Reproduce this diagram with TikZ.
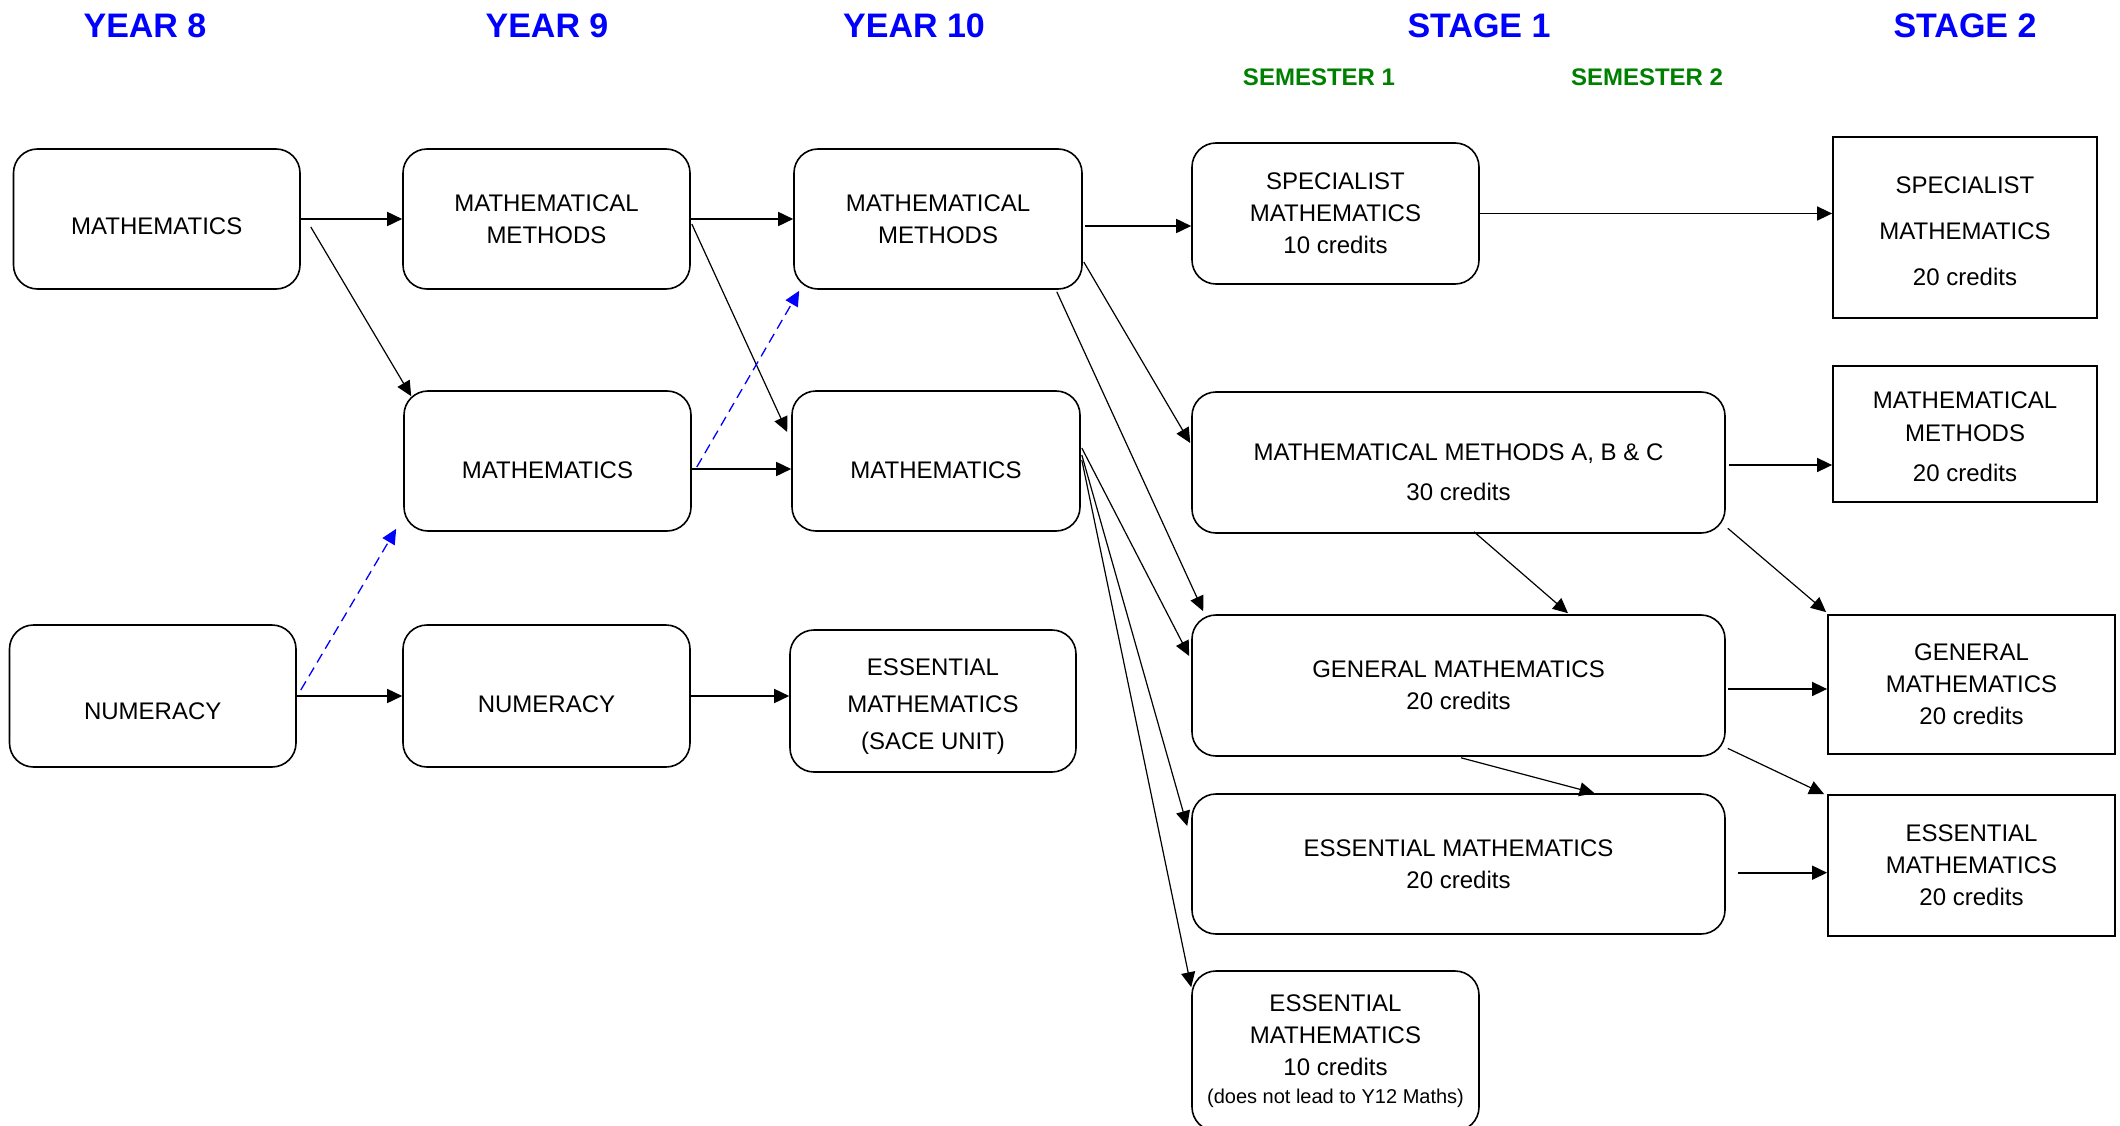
\documentclass[tikz,border=0pt]{standalone}
\usepackage{fontspec}
\setmainfont{Liberation Sans}
\usetikzlibrary{arrows.meta,calc}
\definecolor{hdrblue}{RGB}{0,0,255}
\definecolor{semgreen}{RGB}{0,128,0}
\newcommand{\upr}[1]{\rule{0pt}{#1pt}}
\begin{document}
\begin{tikzpicture}[x=1pt,y=-1pt,
  rbox/.style={draw, line width=1.6pt, rounded corners=24pt, inner sep=0pt, align=center, font=\fontsize{24}{32}\selectfont},
  sbox/.style={draw, line width=1.8pt, inner sep=0pt, align=center, font=\fontsize{24}{32}\selectfont},
  hdr/.style={text=hdrblue, font=\fontsize{34}{40}\selectfont\bfseries, inner sep=0pt},
  sem/.style={text=semgreen, font=\fontsize{24}{30}\selectfont\bfseries, inner sep=0pt},
  arr/.style={line width=1.6pt, -{Triangle[length=15pt,width=14pt]}},
  darr/.style={line width=1.2pt, -{Triangle[length=15pt,width=14pt]}},
  barr/.style={line width=1.3pt, draw=hdrblue, dash pattern=on 10pt off 6pt, -{Triangle[length=15pt,width=14pt]}}
]
\useasboundingbox (0,0) rectangle (2120,1126);

% headers
\node[hdr] (h8) at (145,25.5) {YEAR 8};
\node[hdr] (h9) at (547,25.5) {YEAR 9};
\node[hdr] (h10) at (914,25.5) {YEAR 10};
\node[hdr] (hs1) at (1479,25.5) {STAGE 1};
\node[hdr] (hs2) at (1965,25.5) {STAGE 2};
\node[sem] (sm1) at (1319,77) {SEMESTER 1};
\node[sem] (sm2) at (1647,77) {SEMESTER 2};

% Year 8
\node[rbox, minimum width=286.5pt, minimum height=140pt] (y8m) at (156.75,219) {\upr{31.5}MATHEMATICS};
\node[rbox, minimum width=286.5pt, minimum height=142pt] (y8n) at (152.75,696) {\upr{46.5}NUMERACY};
% Year 9
\node[rbox, minimum width=287pt, minimum height=140pt] (y9mm) at (546.5,219) {MATHEMATICAL\\METHODS};
\node[rbox, minimum width=287pt, minimum height=140pt] (y9m) at (547.5,461) {\upr{35.5}MATHEMATICS};
\node[rbox, minimum width=287pt, minimum height=142pt] (y9n) at (546.5,696) {\upr{33.5}NUMERACY};
% Year 10
\node[rbox, minimum width=288pt, minimum height=140pt] (y10mm) at (938,219) {MATHEMATICAL\\METHODS};
\node[rbox, minimum width=288pt, minimum height=140pt] (y10m) at (936,461) {\upr{35.5}MATHEMATICS};
\node[rbox, minimum width=286pt, minimum height=142pt, font=\fontsize{24}{37}\selectfont] (y10e) at (933,701) {\upr{28.5}ESSENTIAL\\MATHEMATICS\\(SACE UNIT)};
% Stage 1
\node[rbox, minimum width=287pt, minimum height=141pt] (s1spec) at (1335.5,213.5) {SPECIALIST\\MATHEMATICS\\10 credits};
\node[rbox, minimum width=533pt, minimum height=141pt, font=\fontsize{24}{40}\selectfont] (mmabc) at (1458.5,462.5) {\upr{36.5}MATHEMATICAL METHODS A, B \& C\\30 credits};
\node[rbox, minimum width=533pt, minimum height=141pt] (gen) at (1458.5,685.5) {GENERAL MATHEMATICS\\20 credits};
\node[rbox, minimum width=533pt, minimum height=140pt] (ess20) at (1458.5,864) {ESSENTIAL MATHEMATICS\\20 credits};
\node[rbox, minimum width=287pt, minimum height=160pt] (ess10) at (1335.5,1051) {ESSENTIAL\\MATHEMATICS\\10 credits\\[-4pt]{\fontsize{20}{24}\selectfont (does not lead to Y12 Maths)}};
% Stage 2
\node[sbox, minimum width=264pt, minimum height=181pt, font=\fontsize{24}{46}\selectfont] (s2spec) at (1965,227.5) {\upr{24.5}SPECIALIST\\MATHEMATICS\\20 credits};
\node[sbox, minimum width=264pt, minimum height=136pt, font=\fontsize{24}{33}\selectfont] (s2mm) at (1965,434) {\upr{22.5}MATHEMATICAL\\METHODS\\[7pt]20 credits};
\node[sbox, minimum width=287pt, minimum height=139pt] (s2gen) at (1971.5,684.5) {GENERAL\\MATHEMATICS\\20 credits};
\node[sbox, minimum width=287pt, minimum height=141pt] (s2ess) at (1971.5,865.5) {ESSENTIAL\\MATHEMATICS\\20 credits};

% connectors Year 8 -> Year 9
\draw[arr] (y8m.east) -- (y9mm.west);
\draw[darr] ($(y8m.east)+(10,8)$) -- ($(y9m.north west)+(8,6)$);
\draw[arr] (y8n.east) -- (y9n.west);
\draw[barr] ($(y8n.east)+(4,-6)$) -- ($(y9m.south west)+(-7,-3)$);

% Year 9 -> Year 10
\draw[arr] (y9mm.east) -- (y10mm.west);
\draw[darr] ($(y9mm.east)+(1,5)$) -- ($(y10m.west)+(-4,-29)$);
\coordinate (c9m) at ($(y9m.east)+(0,8)$);
\draw[arr] (c9m) -- (c9m -| y10m.west);
\draw[arr] (y9n.east) -- (y9n.east -| y10e.west);
\draw[barr] ($(y9m.east)+(5,6)$) -- ($(y10mm.south west)+(6,1)$);

% Year 10 -> Stage 1
\coordinate (c10) at ($(y10mm.east)+(2,7)$);
\draw[arr] (c10) -- (c10 -| s1spec.west);
\draw[darr] ($(y10mm.east)+(1,43)$) -- ($(mmabc.west)+(-1,-19.5)$);
\draw[darr] ($(y10mm.south east)+(-26,2)$) -- ($(gen.north west)+(12,-3)$);
\draw[darr] ($(y10m.east)+(1,-13)$) -- ($(gen.west)+(-2,-29.5)$);
\draw[darr] ($(y10m.east)+(1,-6)$) -- ($(ess20.west)+(-4,-38)$);
\draw[darr] ($(y10m.east)+(1,-1)$) -- ($(ess10.north west)+(0,17)$);

% Stage 1 internal
\draw[darr] ($(mmabc.south)+(15.5,-2)$) -- ($(gen.north)+(109.5,-1)$);
\draw[darr] ($(gen.south)+(2.5,1)$) -- ($(ess20.north)+(136,0)$);

% Stage 1 -> Stage 2
\draw[arr] (s1spec.east) -- (s1spec.east -| s2spec.west);
\coordinate (cmm) at ($(mmabc.east)+(3,2.5)$);
\draw[arr] (cmm) -- (cmm -| s2mm.west);
\draw[darr] ($(mmabc.south east)+(2,-5.5)$) -- ($(s2gen.north west)+(-1,-2)$);
\coordinate (cgen) at ($(gen.east)+(2,3.5)$);
\draw[arr] (cgen) -- (cgen -| s2gen.west);
\draw[darr] ($(gen.south east)+(2,-8.4)$) -- ($(s2ess.north west)+(-3,0)$);
\coordinate (cess) at ($(ess20.east)+(12.6,8.7)$);
\draw[arr] (cess) -- (cess -| s2ess.west);
\end{tikzpicture}
\end{document}
